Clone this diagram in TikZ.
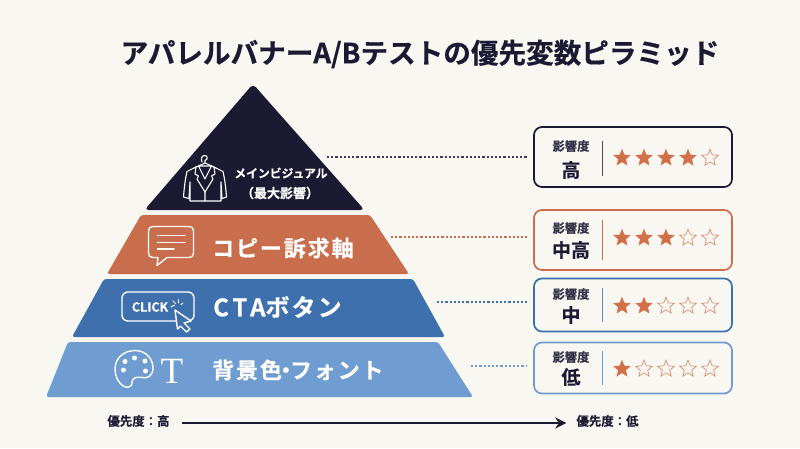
\documentclass[tikz,border=0pt]{standalone}
\usepackage{fontspec}
\usetikzlibrary{arrows.meta,shapes.geometric}
\setmainfont{Noto Sans CJK JP}
\newfontfamily\cjk{Noto Sans CJK JP}[BoldFont={Noto Sans CJK JP Bold},BoldFeatures={FakeBold=0.25}]
\newfontfamily\cjkheavy{Noto Sans CJK JP}[BoldFont={Noto Sans CJK JP Bold},BoldFeatures={FakeBold=0.5}]
\newfontfamily\cjkwide{Noto Sans CJK JP}[BoldFont={Noto Sans CJK JP Bold},BoldFeatures={FakeBold=0.4},LetterSpace=8.5]
\newfontfamily\cjkwider{Noto Sans CJK JP}[BoldFont={Noto Sans CJK JP Bold},BoldFeatures={FakeBold=0.4},LetterSpace=16]
\newfontfamily\serifT{Liberation Serif}
\definecolor{bgc}{HTML}{F8F7F2}
\definecolor{navy}{HTML}{1C1A33}
\definecolor{rust}{HTML}{C96E4C}
\definecolor{blued}{HTML}{3D70AC}
\definecolor{bluel}{HTML}{6F9DD1}
\definecolor{starc}{HTML}{D2704A}
\definecolor{rulec}{HTML}{4A4A58}
\tikzset{
  x=1pt,y=-1pt,
  layer/.style={rounded corners=2.5pt},
  icon/.style={draw=white,line width=1.4pt,line cap=round,line join=round},
  lbl/.style={text=white,inner sep=0pt,font=\cjkwide\bfseries\fontsize{22}{24}\selectfont},
  lblsmall/.style={text=white,inner sep=0pt,font=\cjk\bfseries\fontsize{#1}{15}\selectfont},
  impbox/.style={draw=#1,line width=1.7pt,rounded corners=8pt,minimum width=198pt,inner sep=0pt},
  dotline/.style={line width=2pt,dash pattern=on 2.2pt off 2pt},
  impsmall/.style={text=navy!90,inner sep=0pt,font=\cjk\bfseries\fontsize{12.3}{14}\selectfont},
  impbig/.style={text=navy,inner sep=0pt,font=\cjk\bfseries\fontsize{19}{20}\selectfont},
  divider/.style={line width=1pt},
  starshape/.style={star,star points=5,star point ratio=2.25,minimum size=17.5pt,inner sep=0pt},
  staron/.style={starshape,fill=starc,draw=starc,line width=.3pt},
  staroff/.style={starshape,draw=starc!80,line width=.7pt},
  prio/.style={text=navy,inner sep=0pt,font=\cjk\bfseries\fontsize{12.4}{14}\selectfont},
}
\newcommand{\starline}[3]{% prefix, y, filled count
  \foreach \n/\xx in {1/622,2/644,3/666,4/688,5/710}{
    \ifnum\n>#3\relax
      \node[staroff] (#1\n) at (\xx,#2) {};
    \else
      \node[staron] (#1\n) at (\xx,#2) {};
    \fi
  }
}
\begin{document}
\begin{tikzpicture}
\useasboundingbox[fill=bgc] (0,0) rectangle (800,448);
% title
\node[text=navy,inner sep=0pt,font=\cjkheavy\bfseries\fontsize{27.6}{30}\selectfont] (title) at (420,54) {アパレルバナーA/Bテストの優先変数ピラミッド};
% pyramid
\fill[navy,rounded corners=4pt] (253,84) -- (364.5,210) -- (144.5,210) -- cycle;
\fill[rust,layer] (141,215) -- (370,215) -- (409,274) -- (107,274) -- cycle;
\fill[blued,layer] (104,279) -- (413,279) -- (445,337) -- (72,337) -- cycle;
\fill[bluel,layer] (68,342) -- (438,342) -- (473,397) -- (46,397) -- cycle;
% layer labels
\node[lblsmall=11.8] (l1a) at (281,173) {メインビジュアル};
\node[lblsmall=13] (l1b) at (280,193) {（最大影響）};
\node[lbl,anchor=west] (l2) at (212,248) {コピー訴求軸};
\node[lbl,anchor=west,font=\cjkwider\bfseries\fontsize{24}{25}\selectfont] (l3) at (213,307) {CTA{\cjkwide ボタン}};
\node[lbl,anchor=west] (l4) at (212,370) {背景色\hspace{-7pt}・\hspace{-7pt}フォント};
% jacket icon
\draw[icon,line width=1.1pt] (202,162) .. controls (201,160) and (201,155.5) .. (204.5,155.5) .. controls (208,155.5) and (208,159.5) .. (205,160.5) -- (205,163);
\draw[icon,line width=1.1pt] (205,163) -- (194,168) (205,163) -- (216,168);
\draw[icon,line width=1.1pt] (196,167) -- (187,171.5) .. controls (185,180) and (184,190) .. (183.5,197) -- (189,198.5) -- (190,182) -- (190,201) -- (221,201) -- (221,182) -- (222,198.5) -- (226.5,197) .. controls (226,190) and (225,180) .. (223,171.5) -- (214,167);
\draw[icon,line width=1.1pt] (196,167) -- (195,174) -- (198.5,176) -- (197,179) -- (205,192) -- (213,179) -- (211.5,176) -- (215,174) -- (214,167);
\draw[icon,line width=1.1pt] (198.5,166) -- (205,179) -- (211.5,166) (205,192) -- (205,201) (198.5,166) -- (211.5,166);
% bubble icon
\draw[icon] (153,226.5) -- (189,226.5) .. controls (192,226.5) and (193.5,228) .. (193.5,231) -- (193.5,253) .. controls (193.5,256) and (192,257.5) .. (189,257.5) -- (167,257.5) -- (157,265.5) -- (158,257.5) -- (153,257.5) .. controls (150,257.5) and (148.5,256) .. (148.5,253) -- (148.5,231) .. controls (148.5,228) and (150,226.5) .. (153,226.5) -- cycle;
\draw[icon] (157.5,235.5) -- (185,235.5) (157.5,242.5) -- (185,242.5) (157.5,249) -- (174,249);
% click icon
\draw[icon,rounded corners=6pt] (122,292) rectangle (194,321);
\node[text=white,inner sep=0pt,font=\cjk\bfseries\fontsize{12.5}{13}\selectfont] (clk) at (150,307) {CLICK};
\draw[icon,line width=.9pt] (171,307) -- (174.5,305) (173,301) -- (175.5,303.5) (178.5,299.5) -- (178.5,303) (183,303) -- (181,304.5);
\draw[icon,fill=blued] (175,310) -- (191,321) -- (184,323) -- (190,329) -- (186.5,332) -- (180.5,326) -- (177.5,329) -- cycle;
% palette icon
\draw[icon] (135,350.5) .. controls (147,350.5) and (153,360) .. (153,368) .. controls (153,376) and (147,379) .. (142,377.5) .. controls (136,376) and (131,379) .. (132,383) .. controls (132.5,387) and (127,388) .. (124,386.5) .. controls (118,383) and (115,376) .. (115,369) .. controls (115,358) and (124,350.5) .. (135,350.5) -- cycle;
\foreach \n/\a/\b in {1/125/361.5,2/134.5/358,3/145/361,4/145.5/371,5/123.5/370}
  \fill[white] (\a,\b) circle (2.5);
\node[text=white,inner sep=0pt,font=\serifT\fontsize{37}{38}\selectfont] (tee) at (172,371) {T};
% boxes
\node[impbox=navy,minimum height=60pt] (b1) at (633,157) {};
\node[impbox=rust,minimum height=60pt] (b2) at (633,240) {};
\node[impbox=blued,minimum height=53pt] (b3) at (633,305) {};
\node[impbox=bluel,minimum height=51pt] (b4) at (633,368) {};
% connectors
\coordinate (c1) at (327,157);
\coordinate (c2) at (391,237);
\coordinate (c3) at (437,302);
\coordinate (c4) at (471,366);
\draw[dotline,navy!85,shorten >=6pt] (c1) -- (c1 -| b1.west);
\draw[dotline,rust,shorten >=6pt] (c2) -- (c2 -| b2.west);
\draw[dotline,blued,shorten >=6pt] (c3) -- (c3 -| b3.west);
\draw[dotline,bluel,shorten >=6pt] (c4) -- (c4 -| b4.west);
% box contents
\node[impsmall] (t1) at (571,146) {影響度};
\node[impbig] (v1) at (571,170) {高};
\draw[divider,rulec] (602.5,141) -- (602.5,176);
\node[impsmall] (t2) at (571,228) {影響度};
\node[impbig] (v2) at (571,250) {中高};
\draw[divider,rust] (602.5,220) -- (602.5,260);
\node[impsmall] (t3) at (571,294) {影響度};
\node[impbig] (v3) at (571,315) {中};
\draw[divider,blued!80] (602.5,288) -- (602.5,322);
\node[impsmall] (t4) at (571,357) {影響度};
\node[impbig] (v4) at (571,377) {低};
\draw[divider,bluel] (602.5,351) -- (602.5,385);
\starline{sa}{158}{4}
\starline{sb}{238}{3}
\starline{sc}{306}{2}
\starline{sd}{369}{1}
% priority
\node[prio] (pl) at (138.5,421) {優先度：高};
\node[prio] (pr) at (607.5,421) {優先度：低};
\draw[navy,line width=1.7pt,-{Stealth[length=11pt,width=11pt]},shorten <=12pt,shorten >=10pt] ([yshift=-2pt]pl.east) -- ([yshift=-2pt]pr.west);
\end{tikzpicture}
\end{document}
